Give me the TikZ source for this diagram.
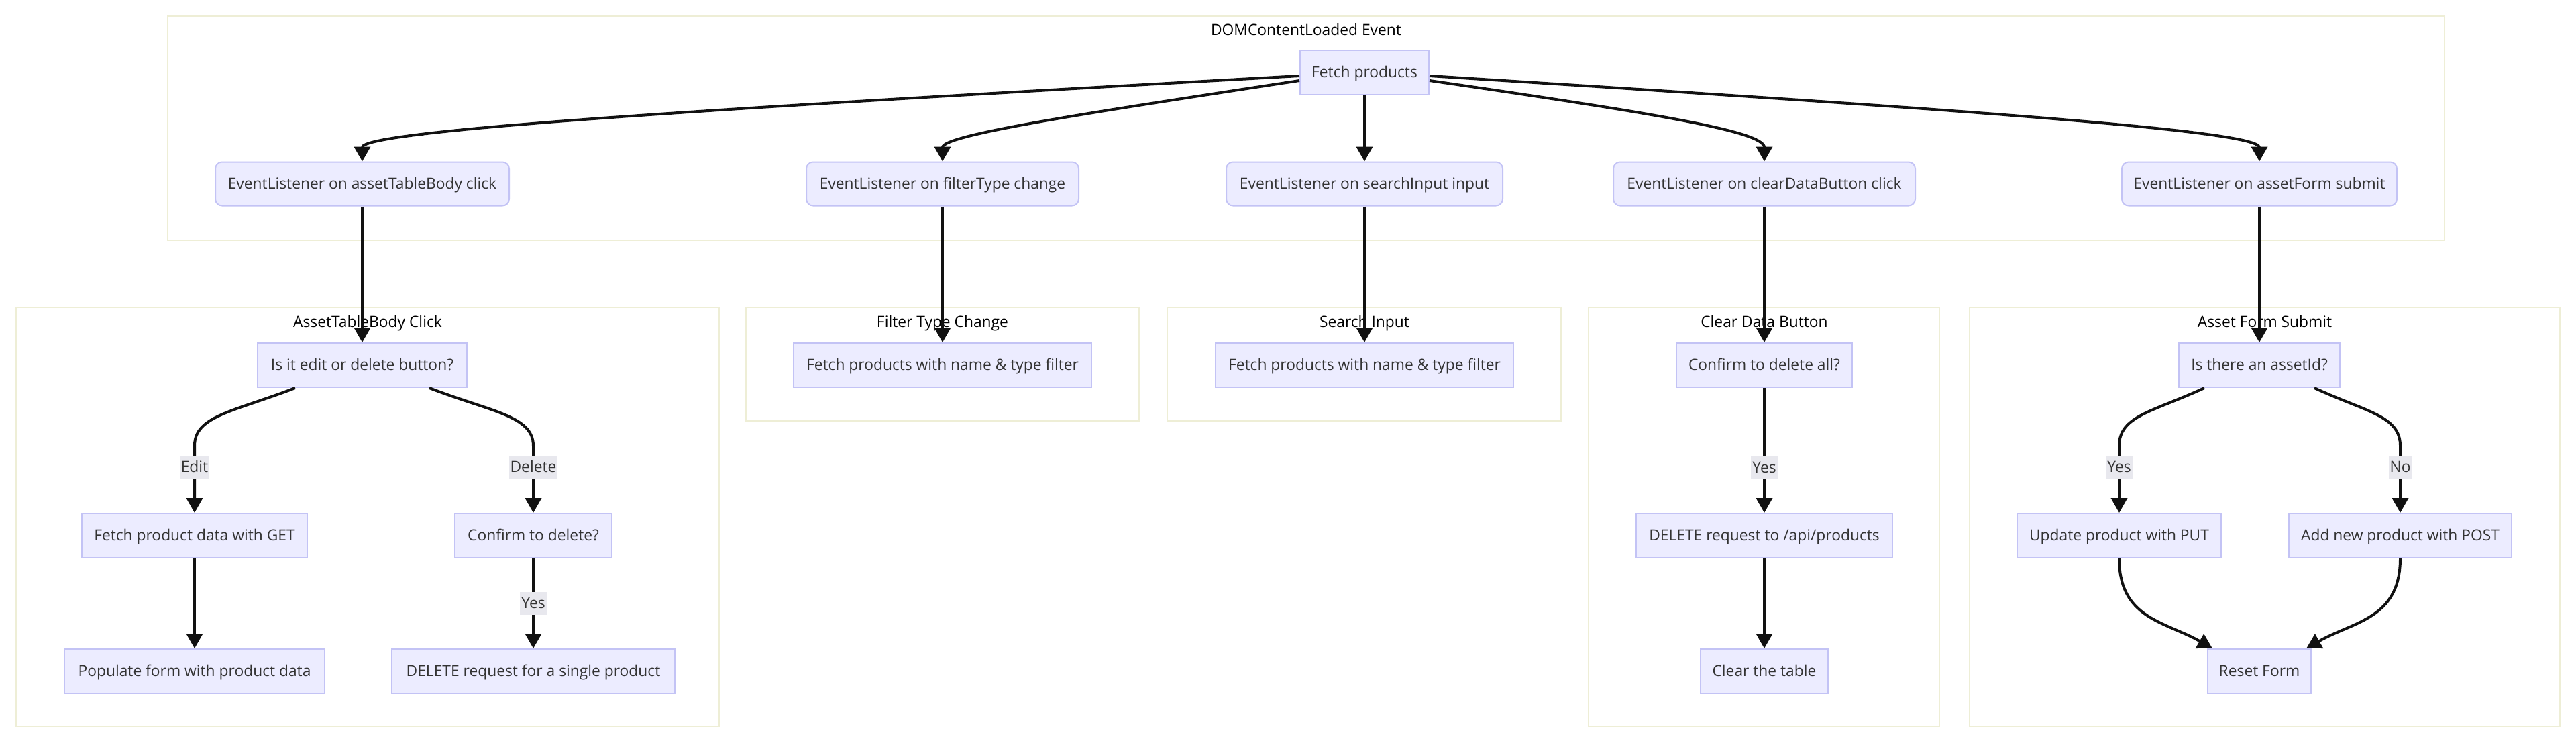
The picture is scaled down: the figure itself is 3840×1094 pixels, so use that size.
\documentclass[tikz,border=0pt]{standalone}
\usepackage{fontspec}
\setmainfont{Open Sans}
\usepackage{xcolor}
\usepackage{tikz}
\usetikzlibrary{arrows.meta}
\definecolor{nodefill}{HTML}{ECECFF}
\definecolor{nodeborder}{HTML}{C3C3F5}
\definecolor{clusterborder}{HTML}{EEEED6}
\definecolor{labelfill}{HTML}{E8E8EE}
\definecolor{nodetext}{HTML}{333333}
\definecolor{edgeblack}{HTML}{111111}

\begin{document}
\begin{tikzpicture}[x=0.5pt, y=-0.5pt, font=\fontsize{11.4pt}{13.7pt}\selectfont,
    box/.style={draw=nodeborder, fill=nodefill, line width=1pt, text=nodetext, minimum height=33pt, inner sep=0pt, text height=1em, text depth=0.22em},
    roundbox/.style={box, rounded corners=5pt, minimum height=32.5pt},
    cluster/.style={draw=clusterborder, line width=1pt},
    title/.style={text=black, inner sep=0pt, anchor=base},
    edge/.style={draw=edgeblack, line width=2pt, -{Triangle[length=11pt, width=12pt]}},
    elabel/.style={fill=labelfill, text=nodetext, inner xsep=1pt, inner ysep=0pt, minimum height=17pt, text height=1em, text depth=0.22em}]
    \path[use as bounding box, fill=white] (0,0) rectangle (3840,1094);

    \draw[cluster] (250,24) rectangle (3644,358);
    \draw[cluster] (24,458) rectangle (1072,1082);
    \draw[cluster] (1112,458) rectangle (1698,627);
    \draw[cluster] (1740,458) rectangle (2327,627);
    \draw[cluster] (2368,458) rectangle (2891,1082);
    \draw[cluster] (2936,458) rectangle (3816,1082);
    \node[title] (domtitle) at (1947,52) {DOMContentLoaded Event};
    \node[title] (tabletitle) at (548,487) {AssetTableBody Click};
    \node[title] (filtertitle) at (1405,487) {Filter Type Change};
    \node[title] (searchtitle) at (2034,487) {Search Input};
    \node[title] (cleartitle) at (2630,487) {Clear Data Button};
    \node[title] (formtitle) at (3376,487) {Asset Form Submit};

    \node[box, minimum width=96pt] (fetch) at (2034,108) {Fetch products};
    \node[roundbox, minimum width=219pt] (lsttable) at (540,274) {EventListener on assetTableBody click};
    \node[roundbox, minimum width=203pt] (lstfilter) at (1405,274) {EventListener on filterType change};
    \node[roundbox, minimum width=206pt] (lstsearch) at (2034,274) {EventListener on searchInput input};
    \node[roundbox, minimum width=225pt] (lstclear) at (2630,274) {EventListener on clearDataButton click};
    \node[roundbox, minimum width=205pt] (lstform) at (3368,274) {EventListener on assetForm submit};

    \node[box, minimum width=156pt] (isedit) at (540,544) {Is it edit or delete button?};
    \node[box, minimum width=168pt] (getdata) at (290,798) {Fetch product data with GET};
    \node[box, minimum width=117pt] (confirmdel) at (795,798) {Confirm to delete?};
    \node[box, minimum width=194pt] (populate) at (290,1000) {Populate form with product data};
    \node[box, minimum width=211pt] (delsingle) at (795,1000) {DELETE request for a single product};

    \node[box, minimum width=222pt] (filterfetch) at (1405,544) {Fetch products with name \& type filter};
    \node[box, minimum width=222pt] (searchfetch) at (2034,544) {Fetch products with name \& type filter};

    \node[box, minimum width=131pt] (confirmall) at (2630,544) {Confirm to delete all?};
    \node[box, minimum width=191pt] (delall) at (2630,798) {DELETE request to /api/products};
    \node[box, minimum width=95pt] (cleartable) at (2630,1000) {Clear the table};

    \node[box, minimum width=120pt] (hasid) at (3368,544) {Is there an assetId?};
    \node[box, minimum width=152pt] (putupdate) at (3159,798) {Update product with PUT};
    \node[box, minimum width=166pt] (postadd) at (3578,798) {Add new product with POST};
    \node[box, minimum width=77pt] (resetform) at (3368,1000) {Reset Form};

    \draw[edge] ([yshift=-2.5pt]fetch.west) .. controls +(-840,47) and +(0,-47) .. (lsttable.north);
    \draw[edge] ([yshift=-6pt]fetch.west) .. controls +(-300,46) and +(0,-40) .. (lstfilter.north);
    \draw[edge] (fetch.south) -- (lstsearch.north);
    \draw[edge] ([yshift=-6pt]fetch.east) .. controls +(330,48) and +(0,-45) .. (lstclear.north);
    \draw[edge] ([yshift=-2.5pt]fetch.east) .. controls +(740,47) and +(0,-47) .. (lstform.north);

    \draw[edge] (lsttable.south) -- (isedit.north);
    \draw[edge] (lstfilter.south) -- (filterfetch.north);
    \draw[edge] (lstsearch.south) -- (searchfetch.north);
    \draw[edge] (lstclear.south) -- (confirmall.north);
    \draw[edge] (lstform.south) -- (hasid.north);

    \draw[edge] ([xshift=-50pt]isedit.south) .. controls +(-90,35) and +(0,-45) .. ([yshift=50pt]getdata.north) -- node[elabel, pos=0.32] {Edit} (getdata.north);
    \draw[edge] ([xshift=50pt]isedit.south) .. controls +(90,35) and +(0,-45) .. ([yshift=50pt]confirmdel.north) -- node[elabel, pos=0.32] {Delete} (confirmdel.north);
    \draw[edge] (getdata.south) -- (populate.north);
    \draw[edge] (confirmdel.south) -- node[elabel] {Yes} (delsingle.north);

    \draw[edge] (confirmall.south) -- node[elabel, pos=0.64] {Yes} (delall.north);
    \draw[edge] (delall.south) -- (cleartable.north);

    \draw[edge] ([xshift=-41pt]hasid.south) .. controls +(-75,35) and +(0,-45) .. ([yshift=50pt]putupdate.north) -- node[elabel, pos=0.32] {Yes} (putupdate.north);
    \draw[edge] ([xshift=41pt]hasid.south) .. controls +(75,35) and +(0,-45) .. ([yshift=50pt]postadd.north) -- node[elabel, pos=0.32] {No} (postadd.north);
    \draw[edge] (putupdate.south) .. controls +(0,90) and +(-70,-40) .. ([xshift=4pt]resetform.north west);
    \draw[edge] (postadd.south) .. controls +(0,90) and +(70,-40) .. ([xshift=-4pt]resetform.north east);
\end{tikzpicture}
\end{document}
